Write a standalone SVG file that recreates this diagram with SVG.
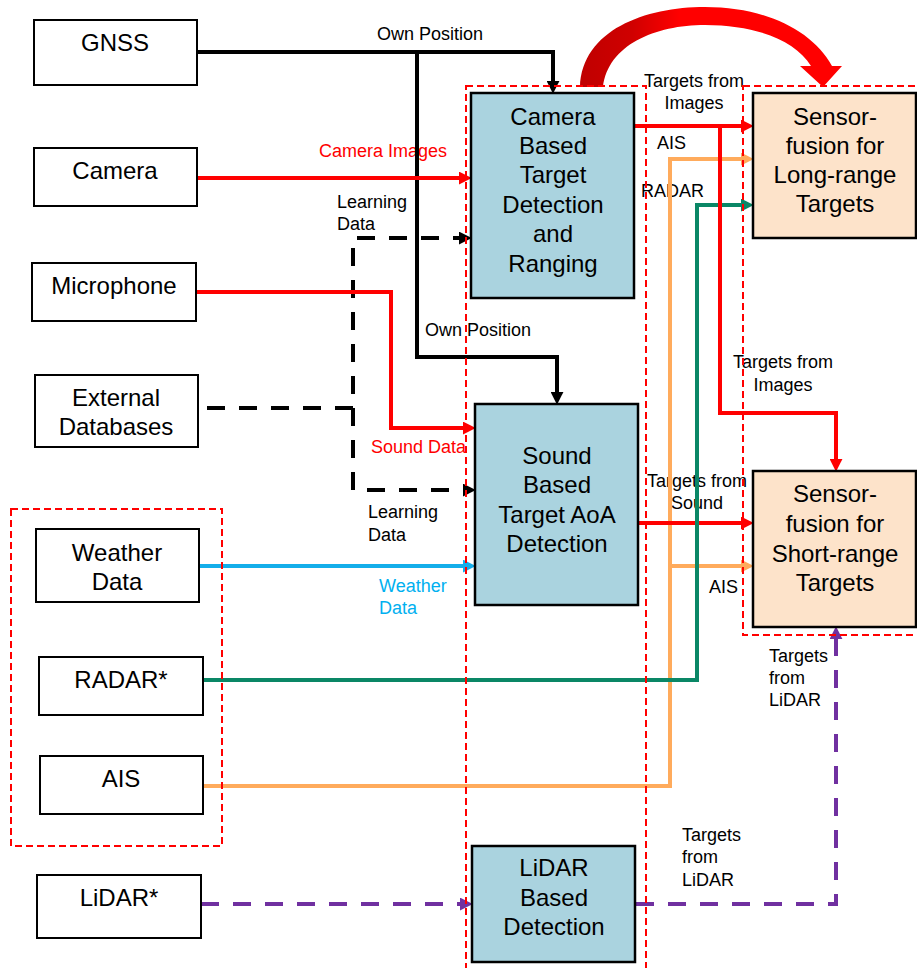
<svg xmlns="http://www.w3.org/2000/svg" width="917" height="968" viewBox="0 0 917 968">
  <style>
    .box { fill: #ffffff; stroke: #000000; stroke-width: 2; }
    .proc { fill: #aad3df; stroke: #000000; stroke-width: 2.5; }
    .fuse { fill: #fde3ca; stroke: #000000; stroke-width: 2.5; }
    .region { fill: none; stroke: #ff0000; stroke-width: 2; stroke-dasharray: 7 4; }
    .big { font-family: "Liberation Sans", Arial, sans-serif; font-size: 24px; fill: #000000; text-anchor: middle; }
    .lbl { font-family: "Liberation Sans", Arial, sans-serif; font-size: 18px; fill: #000000; }
    .mid { text-anchor: middle; }
    .ln { fill: none; stroke-width: 4; stroke-linejoin: miter; }
    .dash { stroke-dasharray: 18 14; }
  </style>
  <defs>
    <marker id="ahBlack" markerUnits="userSpaceOnUse" markerWidth="13" markerHeight="13" viewBox="0 0 12 12" refX="2" refY="6" orient="auto">
      <path d="M0,0 L12,6 L0,12 z" fill="#000000"/>
    </marker>
    <marker id="ahRed" markerUnits="userSpaceOnUse" markerWidth="13" markerHeight="13" viewBox="0 0 12 12" refX="2" refY="6" orient="auto">
      <path d="M0,0 L12,6 L0,12 z" fill="#ff0000"/>
    </marker>
    <marker id="ahBlue" markerUnits="userSpaceOnUse" markerWidth="13" markerHeight="13" viewBox="0 0 12 12" refX="2" refY="6" orient="auto">
      <path d="M0,0 L12,6 L0,12 z" fill="#14aeea"/>
    </marker>
    <marker id="ahGreen" markerUnits="userSpaceOnUse" markerWidth="13" markerHeight="13" viewBox="0 0 12 12" refX="2" refY="6" orient="auto">
      <path d="M0,0 L12,6 L0,12 z" fill="#0a8766"/>
    </marker>
    <marker id="ahOrange" markerUnits="userSpaceOnUse" markerWidth="13" markerHeight="13" viewBox="0 0 12 12" refX="2" refY="6" orient="auto">
      <path d="M0,0 L12,6 L0,12 z" fill="#ffab5c"/>
    </marker>
    <marker id="ahPurple" markerUnits="userSpaceOnUse" markerWidth="13" markerHeight="13" viewBox="0 0 12 12" refX="2" refY="6" orient="auto">
      <path d="M0,0 L12,6 L0,12 z" fill="#7030a0"/>
    </marker>
    <linearGradient id="curveFill" x1="0" y1="0" x2="1" y2="0">
      <stop offset="0" stop-color="#bf0000"/>
      <stop offset="0.2" stop-color="#d00000"/>
      <stop offset="0.38" stop-color="#ff0000"/>
      <stop offset="1" stop-color="#ff0000"/>
    </linearGradient>
  </defs>

  <!-- connector labels (drawn first so the lines pass over them) -->
  <g id="labels">
    <text class="lbl" x="377" y="40">Own Position</text>
    <text class="lbl" x="319" y="157" fill="#ff0000" style="fill:#ff0000">Camera Images</text>
    <text class="lbl" x="337" y="208">Learning</text>
    <text class="lbl" x="337" y="230">Data</text>
    <text class="lbl" x="425" y="336">Own Position</text>
    <text class="lbl" x="371" y="453" style="fill:#ff0000">Sound Data</text>
    <text class="lbl" x="368" y="518">Learning</text>
    <text class="lbl" x="368" y="541">Data</text>
    <text class="lbl" x="379" y="592" style="fill:#00b0f0">Weather</text>
    <text class="lbl" x="379" y="614" style="fill:#00b0f0">Data</text>
    <text class="lbl mid" x="694" y="87">Targets from</text>
    <text class="lbl mid" x="694" y="109">Images</text>
    <text class="lbl" x="657" y="149">AIS</text>
    <text class="lbl" x="641" y="197">RADAR</text>
    <text class="lbl mid" x="783" y="368">Targets from</text>
    <text class="lbl mid" x="783" y="391">Images</text>
    <text class="lbl mid" x="697" y="487">Targets from</text>
    <text class="lbl mid" x="697" y="509">Sound</text>
    <text class="lbl" x="709" y="593">AIS</text>
    <text class="lbl" x="769" y="662">Targets</text>
    <text class="lbl" x="769" y="684">from</text>
    <text class="lbl" x="769" y="706">LiDAR</text>
    <text class="lbl" x="682" y="841">Targets</text>
    <text class="lbl" x="682" y="863">from</text>
    <text class="lbl" x="682" y="886">LiDAR</text>
  </g>

  <!-- connectors -->
  <g id="connectors">
    <!-- own position from GNSS -->
    <path class="ln" stroke="#000000" d="M197 52 H553 V83" marker-end="url(#ahBlack)"/>
    <path class="ln" stroke="#000000" d="M417 52 V357 H557 V394" marker-end="url(#ahBlack)"/>
    <!-- learning data from external databases -->
    <path class="ln dash" stroke="#000000" d="M207 408 H353 V238 H461" marker-end="url(#ahBlack)"/>
    <path class="ln dash" stroke="#000000" d="M353 408 V490 H465" marker-end="url(#ahBlack)"/>
    <!-- camera images -->
    <path class="ln" stroke="#ff0000" d="M197 178 H461" marker-end="url(#ahRed)"/>
    <!-- sound data -->
    <path class="ln" stroke="#ff0000" d="M196 292 H391 V428 H465" marker-end="url(#ahRed)"/>
    <!-- weather data -->
    <path class="ln" stroke="#14aeea" d="M199 566 H465" marker-end="url(#ahBlue)"/>
    <!-- AIS -->
    <path class="ln" stroke="#ffab5c" d="M203 786 H670 V159 H743" marker-end="url(#ahOrange)"/>
    <path class="ln" stroke="#ffab5c" d="M670 566 H743" marker-end="url(#ahOrange)"/>
    <!-- targets from sound -->
    <path class="ln" stroke="#ff0000" d="M638 523 H743" marker-end="url(#ahRed)"/>
    <!-- RADAR -->
    <path class="ln" stroke="#0a8766" d="M203 680 H697 V205 H743" marker-end="url(#ahGreen)"/>
    <!-- targets from images -->
    <path class="ln" stroke="#ff0000" d="M634 126 H743" marker-end="url(#ahRed)"/>
    <path class="ln" stroke="#ff0000" d="M720 126 V413 H836 V461" marker-end="url(#ahRed)"/>
    <!-- LiDAR -->
    <path class="ln dash" stroke="#7030a0" d="M201 904 H462" marker-end="url(#ahPurple)"/>
    <path class="ln dash" stroke="#7030a0" d="M636 904 H836 V637" marker-end="url(#ahPurple)"/>
    <!-- curved block arrow from camera detection to long-range fusion -->
    <path fill="url(#curveFill)" d="M580 87 C582 30 645 7 705 7 C765 7 812 30 832 66 L842 66 L823 87 L800 66 L811 66 C795 40 755 25 705 25 C655 25 608 45 603 87 Z"/>
  </g>

  <!-- grouping regions -->
  <g id="regions">
    <rect class="region" x="11" y="509" width="211" height="337"/>
    <rect class="region" x="466" y="86" width="180" height="900"/>
    <rect class="region" x="743" y="86" width="190" height="549"/>
  </g>

  <!-- input sensors -->
  <g id="gnss">
    <rect class="box" x="34" y="20" width="163" height="65"/>
    <text class="big" x="115" y="51">GNSS</text>
  </g>
  <g id="camera">
    <rect class="box" x="34" y="148" width="163" height="58"/>
    <text class="big" x="115" y="179">Camera</text>
  </g>
  <g id="microphone">
    <rect class="box" x="32" y="263" width="164" height="58"/>
    <text class="big" x="114" y="294">Microphone</text>
  </g>
  <g id="external-databases">
    <rect class="box" x="35" y="375" width="163" height="72"/>
    <text class="big" x="116" y="406">External</text>
    <text class="big" x="116" y="435">Databases</text>
  </g>
  <g id="weather-data">
    <rect class="box" x="36" y="529" width="163" height="73"/>
    <text class="big" x="117" y="561">Weather</text>
    <text class="big" x="117" y="590">Data</text>
  </g>
  <g id="radar">
    <rect class="box" x="39" y="657" width="164" height="58"/>
    <text class="big" x="121" y="688">RADAR*</text>
  </g>
  <g id="ais">
    <rect class="box" x="40" y="756" width="163" height="58"/>
    <text class="big" x="121" y="787">AIS</text>
  </g>
  <g id="lidar">
    <rect class="box" x="37" y="875" width="164" height="63"/>
    <text class="big" x="119" y="906">LiDAR*</text>
  </g>

  <!-- processing blocks -->
  <g id="camera-detection">
    <rect class="proc" x="471" y="93" width="163" height="205"/>
    <text class="big" x="553" y="125">Camera</text>
    <text class="big" x="553" y="154">Based</text>
    <text class="big" x="553" y="183">Target</text>
    <text class="big" x="553" y="213">Detection</text>
    <text class="big" x="553" y="242">and</text>
    <text class="big" x="553" y="272">Ranging</text>
  </g>
  <g id="sound-detection">
    <rect class="proc" x="475" y="404" width="163" height="201"/>
    <text class="big" x="557" y="464">Sound</text>
    <text class="big" x="557" y="493">Based</text>
    <text class="big" x="557" y="523">Target AoA</text>
    <text class="big" x="557" y="552">Detection</text>
  </g>
  <g id="lidar-detection">
    <rect class="proc" x="472" y="846" width="163" height="116"/>
    <text class="big" x="554" y="876">LiDAR</text>
    <text class="big" x="554" y="906">Based</text>
    <text class="big" x="554" y="935">Detection</text>
  </g>

  <!-- fusion blocks -->
  <g id="fusion-long-range">
    <rect class="fuse" x="753" y="93" width="163" height="145"/>
    <text class="big" x="835" y="125">Sensor-</text>
    <text class="big" x="835" y="154">fusion for</text>
    <text class="big" x="835" y="183">Long-range</text>
    <text class="big" x="835" y="212">Targets</text>
  </g>
  <g id="fusion-short-range">
    <rect class="fuse" x="753" y="471" width="163" height="156"/>
    <text class="big" x="835" y="502">Sensor-</text>
    <text class="big" x="835" y="532">fusion for</text>
    <text class="big" x="835" y="562">Short-range</text>
    <text class="big" x="835" y="591">Targets</text>
  </g>
</svg>
